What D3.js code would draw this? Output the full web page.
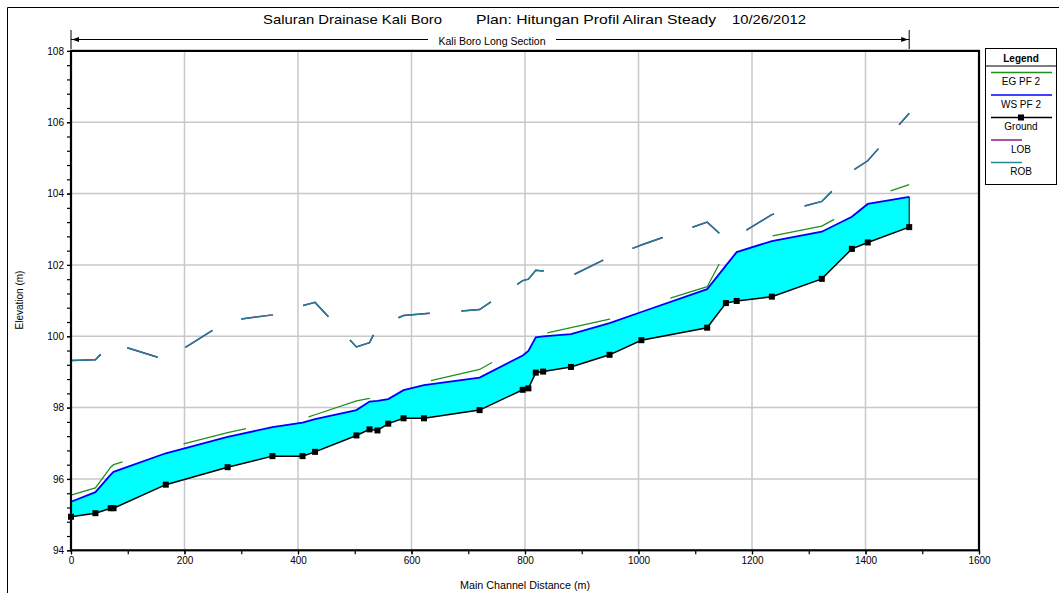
<!DOCTYPE html>
<html>
<head>
<meta charset="utf-8">
<script src="https://cdn.jsdelivr.net/npm/d3@7"></script>
<style>
  body { margin: 0; background: #fff; }
  text { font-family: "Liberation Sans", Arial, sans-serif; fill: #000; }
</style>
</head>
<body>
<svg id="chart" width="1059" height="593"></svg>
<script>
// River stations along the main channel (m)
const stations = [0, 43, 70, 75, 167, 276, 355, 408, 430, 503, 526, 540, 559, 586, 622, 720,
  796, 806, 819, 832, 881, 949, 1005, 1121, 1154, 1173, 1235, 1323, 1376, 1404, 1477];
// Channel bed elevation (m)
const ground = [94.94, 95.04, 95.18, 95.18, 95.84, 96.33, 96.64, 96.64, 96.76, 97.22, 97.39, 97.36,
  97.55, 97.70, 97.70, 97.93, 98.50, 98.54, 98.98, 99.01, 99.14, 99.48, 99.89, 100.24, 100.93,
  100.99, 101.11, 101.61, 102.45, 102.63, 103.06];
// Water surface, profile PF 2 (m)
const wsPF2 = [95.36, 95.63, 96.12, 96.20, 96.72, 97.18, 97.45, 97.58, 97.68, 97.93, 98.17, 98.19,
  98.24, 98.49, 98.63, 98.84, 99.46, 99.59, 99.97, 100.00, 100.06, 100.37, 100.68, 101.32, 101.98,
  102.36, 102.67, 102.93, 103.35, 103.71, 103.91];
// Energy grade, profile PF 2 (m)
const egPF2 = [95.55, 95.75, 96.33, 96.40, 96.86, 97.30, 97.57, 97.68, 97.80, 98.19, 98.26, 98.33,
  98.40, 98.60, 98.71, 99.07, 99.75, 99.85, 100.04, 100.07, 100.24, 100.48, 100.82, 101.39, 102.38,
  102.55, 102.81, 103.09, 103.55, 103.87, 104.25];
// Bank elevations (m)
const rob = [99.32, 99.34, 99.78, 99.80, 99.34, 100.43, 100.60, 100.86, 100.95, 99.70, 99.82, 100.25,
  100.40, 100.58, 100.63, 100.75, 101.56, 101.60, 101.85, 101.83, 101.69, 102.22, 102.56, 103.20,
  102.72, 102.81, 103.41, 103.78, 104.63, 104.92, 106.25];
const lob = rob.slice();

// Axis ticks
const xTicks = [0, 200, 400, 600, 800, 1000, 1200, 1400, 1600];
const yTicks = [94, 96, 98, 100, 102, 104, 106, 108];

const titleParts = ["Saluran Drainase Kali Boro", "Plan: Hitungan Profil Aliran Steady", "10/26/2012"];
const sectionLabel = "Kali Boro Long Section";
const legendItems = [
  { name: "EG  PF 2", color: "#1f8f1f", kind: "full" },
  { name: "WS  PF 2", color: "#0000ff", kind: "full" },
  { name: "Ground", color: "#000000", kind: "marker" },
  { name: "LOB", color: "#8b1a8b", kind: "short" },
  { name: "ROB", color: "#1f8a96", kind: "short" }
];

const svg = d3.select("#chart");
const x = d3.scaleLinear().domain([0, 1600]).range([71, 979]);
const y = d3.scaleLinear().domain([94, 108]).range([550.3, 50.9]);

// Outer frame (left and top edges)
svg.append("path").attr("d", "M7.5,593 L7.5,7.5 L1059,7.5")
  .attr("fill", "none").attr("stroke", "#000").attr("stroke-width", 1);

// Title
const titleX = [263, 476, 732], titleW = [179, 240, 74];
titleParts.forEach((t, i) => {
  svg.append("text").attr("x", titleX[i]).attr("y", 24).attr("font-size", 13)
    .attr("textLength", titleW[i]).attr("lengthAdjust", "spacingAndGlyphs").text(t);
});

// Long-section span arrow
const ay = 39.5, ax0 = x(stations[0]), ax1 = x(stations[stations.length - 1]);
svg.append("line").attr("x1", ax0).attr("x2", ax1).attr("y1", ay).attr("y2", ay)
  .attr("stroke", "#000").attr("stroke-width", 1);
[ax0, ax1].forEach(v => svg.append("line").attr("x1", v).attr("x2", v)
  .attr("y1", 30).attr("y2", 49).attr("stroke", "#000").attr("stroke-width", 1));
svg.append("path").attr("d", `M${ax0 + 1},${ay} l7,-2.5 l0,5 z`).attr("fill", "#000");
svg.append("path").attr("d", `M${ax1 - 1},${ay} l-7,-2.5 l0,5 z`).attr("fill", "#000");
svg.append("rect").attr("x", 428).attr("y", 34).attr("width", 128).attr("height", 12).attr("fill", "#fff");
svg.append("text").attr("x", 492).attr("y", 44.5).attr("font-size", 10).attr("text-anchor", "middle")
  .attr("textLength", 107).attr("lengthAdjust", "spacingAndGlyphs").text(sectionLabel);

// Grid
const grid = svg.append("g").attr("stroke", "#c8c8c8").attr("stroke-width", 1.5);
xTicks.slice(1, -1).forEach(v => grid.append("line").attr("x1", x(v)).attr("x2", x(v))
  .attr("y1", y(108)).attr("y2", y(94)));
yTicks.slice(1, -1).forEach(v => grid.append("line").attr("x1", x(0)).attr("x2", x(1600))
  .attr("y1", y(v)).attr("y2", y(v)));

// Flow area between bed and water surface
const area = d3.area().x((d, i) => x(stations[i])).y0((d, i) => y(ground[i])).y1((d, i) => y(wsPF2[i]));
svg.append("path").datum(stations).attr("d", area).attr("fill", "#00ffff");

const line = vals => d3.line().x((d, i) => x(stations[i])).y((d, i) => y(vals[i]))(stations);

svg.append("path").attr("d", line(lob)).attr("fill", "none").attr("stroke", "#8b1a8b")
  .attr("stroke-width", 1.5).attr("stroke-dasharray", "32,31.6");
svg.append("path").attr("d", line(rob)).attr("fill", "none").attr("stroke", "#1f7d92")
  .attr("stroke-width", 1.5).attr("stroke-dasharray", "32,31.6");
svg.append("path").attr("d", line(wsPF2)).attr("fill", "none").attr("stroke", "#0000ff")
  .attr("stroke-width", 1.8);
svg.append("path").attr("d", line(egPF2)).attr("fill", "none").attr("stroke", "#1f8f1f")
  .attr("stroke-width", 1.3).attr("stroke-dasharray", "64.3,63.7");
svg.append("path").attr("d", line(ground)).attr("fill", "none").attr("stroke", "#000")
  .attr("stroke-width", 1.5);
const last = stations.length - 1;
svg.append("line").attr("x1", x(stations[last])).attr("x2", x(stations[last]))
  .attr("y1", y(ground[last])).attr("y2", y(wsPF2[last])).attr("stroke", "#000").attr("stroke-width", 1);
svg.append("g").selectAll("rect").data(stations).join("rect")
  .attr("x", (d, i) => x(d) - 3).attr("y", (d, i) => y(ground[i]) - 3)
  .attr("width", 6).attr("height", 6).attr("fill", "#000");

// Axes
const yMinor = d3.range(94, 108.01, 0.4);
const xMinor = d3.range(0, 1601, 100);
const gy = svg.append("g").attr("transform", `translate(${x(0)},0)`);
gy.call(d3.axisLeft(y).tickValues(yMinor).tickSize(4).tickFormat(""));
gy.call(g => g.append("g").call(d3.axisLeft(y).tickValues(yTicks).tickSize(4).tickFormat(d3.format("d"))));
const gx = svg.append("g").attr("transform", `translate(0,${y(94)})`);
gx.call(d3.axisBottom(x).tickValues(xMinor).tickSize(4).tickFormat(""));
gx.call(g => g.append("g").call(d3.axisBottom(x).tickValues(xTicks).tickSize(4).tickFormat(d3.format("d"))));
svg.selectAll(".domain").remove();
svg.selectAll(".tick line").attr("stroke", "#000").attr("stroke-width", 1.2);
svg.selectAll(".tick text").attr("font-size", 10).attr("font-family", "Liberation Sans, Arial, sans-serif").attr("fill", "#000");

// Plot frame
svg.append("rect").attr("x", x(0)).attr("y", y(108)).attr("width", x(1600) - x(0))
  .attr("height", y(94) - y(108)).attr("fill", "none").attr("stroke", "#000").attr("stroke-width", 2.2);

// Axis titles
svg.append("text").attr("x", 525).attr("y", 589).attr("font-size", 10).attr("text-anchor", "middle")
  .attr("textLength", 130).attr("lengthAdjust", "spacingAndGlyphs").text("Main Channel Distance (m)");
svg.append("text").attr("transform", "translate(23,300) rotate(-90)").attr("font-size", 10)
  .attr("text-anchor", "middle").text("Elevation (m)");

// Legend
const lg = svg.append("g");
lg.append("rect").attr("x", 985.5).attr("y", 48.5).attr("width", 71).attr("height", 136)
  .attr("fill", "#fff").attr("stroke", "#000").attr("stroke-width", 1);
lg.append("text").attr("x", 1021).attr("y", 62).attr("font-size", 10).attr("font-weight", "bold")
  .attr("text-anchor", "middle").text("Legend");
lg.append("line").attr("x1", 985.5).attr("x2", 1056.5).attr("y1", 66).attr("y2", 66).attr("stroke", "#000");
legendItems.forEach((d, i) => {
  const ly = 72.5 + i * 22.5;
  const x2 = d.kind === "short" ? 1022 : 1052;
  lg.append("line").attr("x1", 991).attr("x2", x2).attr("y1", ly).attr("y2", ly)
    .attr("stroke", d.color).attr("stroke-width", 1.5);
  if (d.kind === "marker") lg.append("rect").attr("x", 1018).attr("y", ly - 3).attr("width", 6)
    .attr("height", 6).attr("fill", "#000");
  lg.append("text").attr("x", 1021).attr("y", ly + 12.5).attr("font-size", 10)
    .attr("text-anchor", "middle").text(d.name);
});
</script>
</body>
</html>
